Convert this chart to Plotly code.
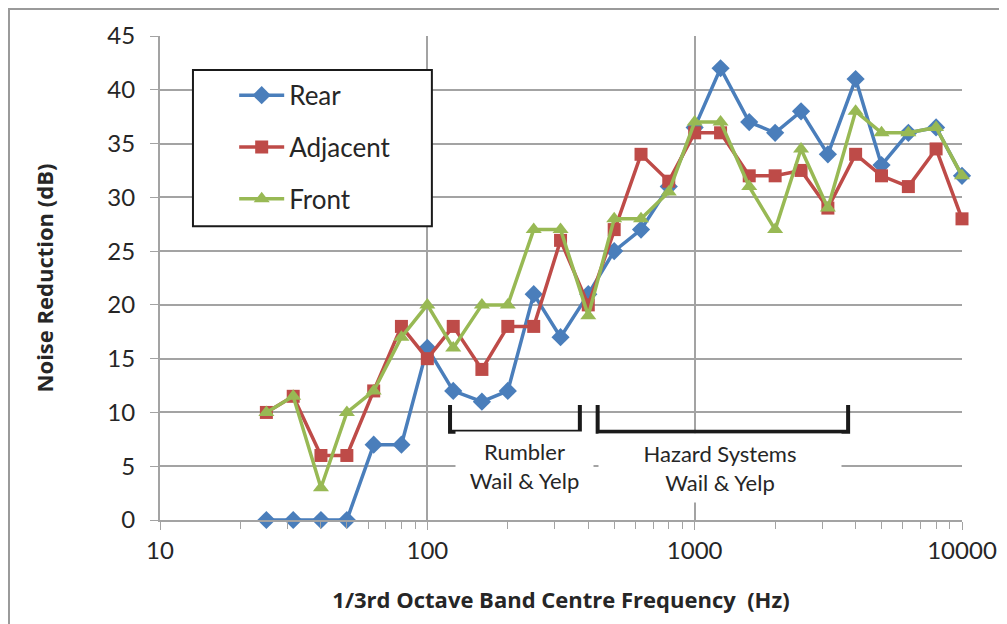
import plotly.graph_objects as go

# 1/3 octave band centre frequencies (Hz)
FREQ = [25, 31.5, 40, 50, 63, 80, 100, 125, 160, 200, 250, 315, 400, 500,
        630, 800, 1000, 1250, 1600, 2000, 2500, 3150, 4000, 5000, 6300,
        8000, 10000]

REAR = [0, 0, 0, 0, 7, 7, 16, 12, 11, 12, 21, 17, 21, 25,
        27, 31, 36.5, 42, 37, 36, 38, 34, 41, 33, 36, 36.5, 32]
ADJACENT = [10, 11.5, 6, 6, 12, 18, 15, 18, 14, 18, 18, 26, 20, 27,
            34, 31.5, 36, 36, 32, 32, 32.5, 29, 34, 32, 31, 34.5, 28]
FRONT = [10, 11.5, 3, 10, 12, 17, 20, 16, 20, 20, 27, 27, 19, 28,
         28, 30.5, 37, 37, 31, 27, 34.5, 29, 38, 36, 36, 36.5, 32]

X_TICKS = [10, 100, 1000, 10000]
X_TICK_TEXT = ['10', '100', '1000', '10000']

# bracket extents (Hz / dB) for the two siren groups
RUMBLER_SPAN = [121.6, 372]
HAZARD_SPAN = [433.6, 3750]
BRACKET_Y = [10.7, 8.2]

FONT = 'Lato'
TITLE_FONT = 'Open Sans'
GRID = '#A3A3A3'

series = [
    ('Rear', REAR, '#4A7EBB', 'diamond', 14),
    ('Adjacent', ADJACENT, '#BE4B48', 'square', 13),
    ('Front', FRONT, '#98B954', 'triangle-up', 14),
]

fig = go.Figure()

for name, vals, colour, symbol, size in series:
    fig.add_trace(
        go.Scatter(x=FREQ, y=vals, name=name, mode='lines+markers',
                   legendgroup=name, cliponaxis=False,
                   line=dict(color=colour, width=3.5),
                   marker=dict(symbol=symbol, size=size, color=colour))
    )

for span in [RUMBLER_SPAN, HAZARD_SPAN]:
    fig.add_trace(
        go.Scatter(x=[span[0], span[0], span[1], span[1]],
                   y=[BRACKET_Y[0], BRACKET_Y[1], BRACKET_Y[1], BRACKET_Y[0]],
                   mode='lines', showlegend=False, hoverinfo='skip',
                   line=dict(color='#1A1A1A', width=4))
    )

shapes = [
    # outer chart border
    dict(type='rect', xref='paper', yref='paper', x0=-0.1883, x1=1.2,
         y0=-0.4, y1=1.056, line=dict(color='#9A9A9A', width=2)),
    # legend box
    dict(type='rect', xref='paper', yref='paper', x0=0.0411, x1=0.339,
         y0=0.607, y1=0.930, fillcolor='white',
         line=dict(color='#1A1A1A', width=2), layer='above'),
]

annotations = [
    dict(text='Rumbler<br>Wail & Yelp', xref='paper', yref='paper',
         x=0.455, y=0.112, xanchor='center', yanchor='middle',
         showarrow=False, bgcolor='white', width=135, height=66,
         font=dict(family=FONT, size=22, color='#262626')),
    dict(text='Hazard Systems<br>Wail & Yelp', xref='paper', yref='paper',
         x=0.698, y=0.107, xanchor='center', yanchor='middle',
         showarrow=False, bgcolor='white', width=240, height=66,
         font=dict(family=FONT, size=22, color='#262626')),
]

fig.update_layout(
    width=1007, height=624,
    margin=dict(l=152, r=53, t=28, b=112),
    paper_bgcolor='white', plot_bgcolor='white',
    font=dict(family=FONT, color='#262626'),
    shapes=shapes,
    annotations=annotations,
    showlegend=True,
    legend=dict(x=0.0925, y=0.926, xanchor='left', yanchor='top',
                bgcolor='rgba(0,0,0,0)', borderwidth=0, itemwidth=45,
                tracegroupgap=15, font=dict(family=FONT, size=26)),
    xaxis=dict(type='log', range=[1, 4], tickvals=X_TICKS,
               ticktext=X_TICK_TEXT, showgrid=True, gridcolor=GRID,
               gridwidth=2, showline=True, linecolor=GRID, linewidth=2,
               ticks='outside', ticklen=8, tickcolor=GRID,
               tickfont=dict(size=24), automargin=False,
               minor=dict(ticks='outside', ticklen=7, tickcolor=GRID,
                          dtick='D1', showgrid=False),
               title=dict(text='<b>1/3rd Octave Band Centre Frequency  (Hz)</b>',
                          font=dict(family=TITLE_FONT, size=22), standoff=30)),
    yaxis=dict(range=[0, 45], dtick=5, showgrid=True, gridcolor=GRID,
               gridwidth=2, showline=True, linecolor=GRID, linewidth=2,
               ticks='outside', ticklen=8, tickcolor=GRID,
               tickfont=dict(size=24), zeroline=False, automargin=False,
               ticklabelstandoff=10,
               title=dict(text='<b>Noise Reduction (dB)</b>',
                          font=dict(family=TITLE_FONT, size=22), standoff=48)),
)

fig.write_html("out.html")
